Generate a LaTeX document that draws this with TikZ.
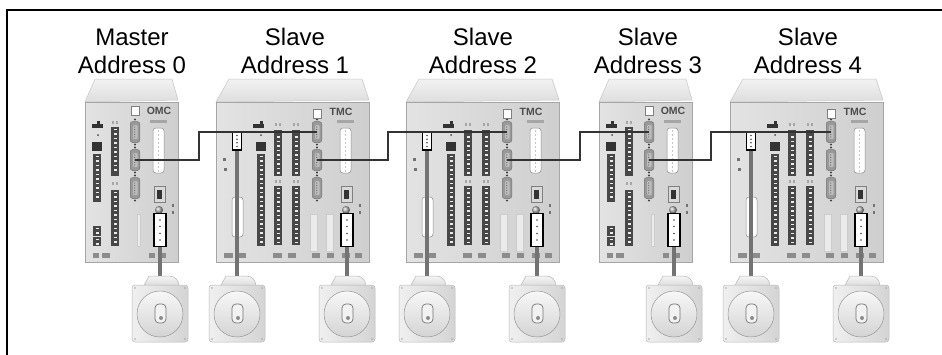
\documentclass[tikz,border=0pt]{standalone}
\usepackage{fontspec}
\setmainfont{Liberation Sans}
\tikzset{
 lbl/.style={font=\fontsize{24}{28}\selectfont, anchor=base, inner sep=0pt},
 brand/.style={font=\bfseries\fontsize{10.5}{10.5}\selectfont, text=black!70, inner sep=0pt},
 unitbody/.style={left color=black!11, right color=black!19, draw=black!35, line width=0.6pt},
 unitcap/.style={top color=black!5, bottom color=black!13, draw=black!22, line width=0.5pt},
 db9/.style={rectangle, rounded corners=2.5pt, minimum width=9.5pt, minimum height=21pt, inner sep=0pt, fill=black!40, draw=black!55, line width=0.5pt},
 plug/.style={rectangle, minimum width=9pt, minimum height=18pt, inner sep=0pt, fill=white, draw=black, line width=1.1pt},
 plugv/.style={rectangle, minimum width=12pt, minimum height=33pt, inner sep=0pt, fill=white, draw=black, line width=1.1pt},
 netline/.style={draw=black!80, line width=1.3pt},
 mcable/.style={draw=black!55, line width=3.5pt},
 wconn/.style={fill=white, draw=black!45, line width=0.5pt, rounded corners=3pt},
 framebox/.style={draw=black, line width=2pt},
}
\newcommand\Tstrip[3]{%
 \fill[black!72] ({#1-4},#2) rectangle ({#1+4},#3);
 \pgfmathtruncatemacro\tsn{(#3-#2)/4.5}%
 \foreach \k in {1,...,\tsn}{\fill[black!8] ({#1-1.5},{#2+\k*4.5-3}) rectangle ({#1+2},{#2+\k*4.5-1.3});}
}
\newcommand\DBnine[3]{%
 \node[db9] (#1) at (#2,#3) {};
 \fill[black!26, rounded corners=1pt] ({#2-2},{#3-7}) rectangle ({#2+2.5},{#3+7});
 \foreach \k in {-5,-2.5,...,5} \fill[black!60] ({#2-0.2},{#3+\k}) circle (0.6);
 \fill[black!75] (#2,{#3-12.5}) circle (1.1);
 \fill[black!75] (#2,{#3+12.5}) circle (1.1);
}
\newcommand\DBlong[4]{%
 \path[wconn] (#1,#3) rectangle (#2,#4);
 \pgfmathtruncatemacro\dln{(#4-#3)/4}%
 \foreach \k in {1,...,\dln} \fill[black!45] ({(#1+#2)/2},{#3+\k*4-1}) circle (0.6);
}
\newcommand\BottomMarks[1]{%
 \foreach \a/\b in {#1} \fill[black!45] (\a,252.5) rectangle (\b,257.5);
}
\newcommand\RightBlock[2]{%
 \fill[black!35] ({#2-9},120) rectangle ({#2+8},122.5);
 \DBlong{#2-6}{#2+5}{128}{173}
 \path[fill=black!15, draw=black!50] ({#2-5},186) rectangle ({#2+6},202);
 \fill[black!80] ({#2-2},190) rectangle ({#2+3},199);
 \shade[ball color=black!30] (#2,210) circle (4);
 \node[plugv] (#1) at ({#2+1},230) {};
 \foreach \k in {-10,-3.5,3.5,10} \fill[black!70] ({#2+1},{230+\k}) circle (0.9);
 \fill[black!55] ({#2+13},204) rectangle ({#2+14.5},207);
 \fill[black!55] ({#2+13},211) rectangle ({#2+14.5},214);
}
\newcommand\WideUnit[2]{%
\begin{scope}[shift={(#2,0)}]
 \path[unitcap] (0,102) -- (13,79) -- (146,79) -- (153,100) -- cycle;
 \path[unitbody] (0,102) rectangle (153,262);
 \node[plug] (#1L) at (21,141) {};
 \foreach \k in {-5.5,-1.8,1.8,5.5} \fill[black!70] (21,{141+\k}) circle (0.9);
 \DBlong{16}{27}{197}{237}
 \fill[black!55] (7,158) rectangle (9.5,161);
 \fill[black!55] (8,168) rectangle (10.5,170.5);
 \fill[black!80] (37,124) rectangle (48,127.5);
 \fill[black!80] (44,120.5) rectangle (46.5,124);
 \fill[black!70] (45,135) circle (1);
 \fill[black!80] (40,142) rectangle (50,151);
 \Tstrip{45}{154}{246}
 \Tstrip{62}{130}{176}
 \Tstrip{62}{186}{245}
 \Tstrip{80}{130}{176}
 \Tstrip{80}{186}{245}
 \foreach \xx in {60,64,78,82} {\fill[black!35] (\xx-0.8,123) rectangle (\xx+0.8,125.5); \fill[black!35] (\xx-0.8,180) rectangle (\xx+0.8,182.5);}
 \path[fill=black!8, draw=black!20] (94,214) rectangle (101,251);
 \path[fill=black!8, draw=black!20] (110,214) rectangle (117,251);
 \DBnine{#1a}{101}{132}
 \DBnine{#1b}{101}{160}
 \DBnine{#1c}{101}{188}
 \path[fill=white, draw=black!50] (97,109) rectangle (105,118);
 \node[brand] at (125,112) {TMC};
 \RightBlock{#1R}{130}
 \BottomMarks{8/17, 22/30, 57/66, 72/80, 96/104, 111/118, 126/134, 139/146}
\end{scope}}
\newcommand\NarrowUnit[2]{%
\begin{scope}[shift={(#2,0)}]
 \path[unitcap] (0,102) -- (10,79) -- (87,79) -- (93,100) -- cycle;
 \path[unitbody] (0,102) rectangle (93,262);
 \fill[black!80] (7,124) rectangle (18,127.5);
 \fill[black!80] (12,120.5) rectangle (14.5,124);
 \fill[black!70] (13,135) circle (1);
 \fill[black!80] (7,142) rectangle (17,151);
 \Tstrip{12}{154}{202}
 \Tstrip{12}{226}{236}
 \Tstrip{12}{237}{246}
 \Tstrip{30}{127}{176}
 \Tstrip{30}{190}{246}
 \foreach \xx in {28,32} {\fill[black!35] (\xx-0.8,121) rectangle (\xx+0.8,123.5); \fill[black!35] (\xx-0.8,182) rectangle (\xx+0.8,184.5);}
 \path[fill=black!8, draw=black!20] (52,214) rectangle (55,246);
 \DBnine{#1a}{50}{132}
 \DBnine{#1b}{50}{160}
 \DBnine{#1c}{50}{188}
 \path[fill=white, draw=black!50] (46,106) rectangle (54,115);
 \node[brand] at (74,111) {OMC};
 \RightBlock{#1R}{74}
 \BottomMarks{8/14, 17/25, 64/70, 74/81}
\end{scope}}
\newcommand\Motor[2]{%
\begin{scope}[shift={(#2,0)}]
 \path[top color=black!4, bottom color=black!15, draw=black!28, line width=0.5pt] (-17,287) -- (-11,276) -- (9,276) .. controls (15,276) and (19,280) .. (19,287) -- cycle;
 \path[left color=black!6, right color=black!17, draw=black!28, line width=0.5pt, rounded corners=3pt] (-28,285) rectangle (28,342);
 \foreach \dx/\dy in {-25/288, 25/288, -25/339, 25/339} \fill[black!35] (\dx,\dy) circle (0.9);
 \path[top color=black!3, bottom color=black!17, draw=black!40, line width=0.5pt] (0,314) circle (23);
 \path[fill=black!5, draw=black!55, line width=0.7pt, rounded corners=4pt] (-5,304) rectangle (6,323);
 \fill[black!45] (1,318) circle (2);
\end{scope}}
\begin{document}
\begin{tikzpicture}[x=1pt, y=-1pt]
\useasboundingbox (0,0) rectangle (942,354);
\fill[white] (0,0) rectangle (942,354);
\draw[framebox] (7,400) -- (7,10) -- (960,10);
% labels
\node[lbl] (t0a) at (132,45) {Master};
\node[lbl] (t0b) at (132,73) {Address 0};
\node[lbl] (t1a) at (295,45) {Slave};
\node[lbl] (t1b) at (295,73) {Address 1};
\node[lbl] (t2a) at (483,45) {Slave};
\node[lbl] (t2b) at (483,73) {Address 2};
\node[lbl] (t3a) at (648,45) {Slave};
\node[lbl] (t3b) at (648,73) {Address 3};
\node[lbl] (t4a) at (808,45) {Slave};
\node[lbl] (t4b) at (808,73) {Address 4};
% units
\NarrowUnit{u0}{85}
\WideUnit{u1}{216}
\WideUnit{u2}{406}
\NarrowUnit{u3}{599}
\WideUnit{u4}{730}
% motor top coordinates
\coordinate (m1) at (160,278);
\coordinate (m2) at (237,278);
\coordinate (m3) at (347,278);
\coordinate (m4) at (427,278);
\coordinate (m5) at (537,278);
\coordinate (m6) at (674,278);
\coordinate (m7) at (751,278);
\coordinate (m8) at (861,278);
% network
\coordinate (j01) at (199,146);
\coordinate (j12) at (388,146);
\coordinate (j23) at (580,146);
\coordinate (j34) at (711,146);
\draw[netline] (u0b.center) -| (j01) |- (u1a.center);
\draw[netline] (u1b.center) -| (j12) |- (u2a.center);
\draw[netline] (u2b.center) -| (j23) |- (u3a.center);
\draw[netline] (u3b.center) -| (j34) |- (u4a.center);
% motor cables
\draw[mcable] (u0R.south) -- (m1);
\draw[mcable] (u1L.south) -- (m2);
\draw[mcable] (u1R.south) -- (m3);
\draw[mcable] (u2L.south) -- (m4);
\draw[mcable] (u2R.south) -- (m5);
\draw[mcable] (u3R.south) -- (m6);
\draw[mcable] (u4L.south) -- (m7);
\draw[mcable] (u4R.south) -- (m8);
% motors
\Motor{mo1}{160}
\Motor{mo2}{237}
\Motor{mo3}{347}
\Motor{mo4}{427}
\Motor{mo5}{537}
\Motor{mo6}{674}
\Motor{mo7}{751}
\Motor{mo8}{861}
\end{tikzpicture}
\end{document}
